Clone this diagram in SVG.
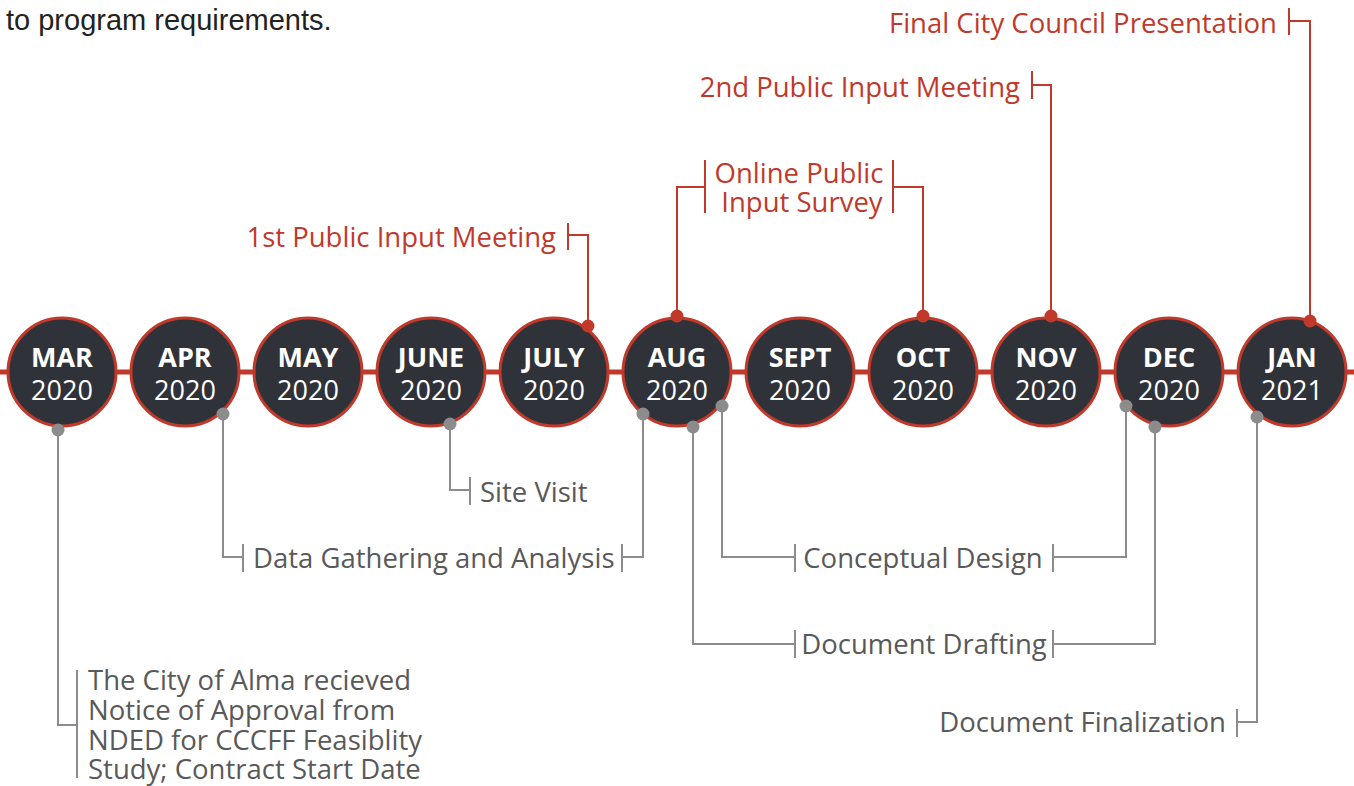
<svg xmlns="http://www.w3.org/2000/svg" width="1354" height="786" viewBox="0 0 1354 786">
  <style>
    .bg { fill: #ffffff; }
    .axis { stroke: #c0392b; stroke-width: 5; }
    .month circle { fill: #2f3239; stroke: #c0392b; stroke-width: 3; }
    .mlab { font-family: "Open Sans", "Noto Sans", sans-serif; font-size: 27px; fill: #ffffff; text-anchor: middle; }
    .mon { font-weight: 700; }
    .lr { fill: none; stroke: #c0392b; stroke-width: 2; }
    .lg { fill: none; stroke: #8c8c8c; stroke-width: 2; }
    .dr { fill: #c0392b; }
    .dg { fill: #8c8c8c; }
    .tr { font-family: "Open Sans", "Noto Sans", sans-serif; font-size: 27.5px; fill: #c0392b; }
    .tg { font-family: "Open Sans", "Noto Sans", sans-serif; font-size: 27.5px; fill: #595959; }
    .intro { font-family: "Liberation Sans", Arial, sans-serif; font-size: 29px; fill: #222222; }
  </style>
  <rect class="bg" x="0" y="0" width="1354" height="786"/>

  <text class="intro" x="6" y="30">to program requirements.</text>

  <!-- timeline axis -->
  <line class="axis" x1="0" y1="372" x2="1354" y2="372"/>

  <!-- connectors -->
  <g id="connectors">
    <!-- red milestones above -->
    <path class="lr" d="M588 326 V235 H568 M568 223 V250"/>
    <path class="lr" d="M677 316 V187 H705 M705 160 V213"/>
    <path class="lr" d="M923 316 V187 H893 M893 160 V213"/>
    <path class="lr" d="M1051 316 V85 H1032 M1032 71 V99"/>
    <path class="lr" d="M1310 321 V21 H1289 M1289 8 V35"/>
    <!-- grey phases below -->
    <path class="lg" d="M58 430 V725 H77 M77 670 V778"/>
    <path class="lg" d="M223 414 V557 H243 M243 544 V572"/>
    <path class="lg" d="M643 414 V557 H622 M622 544 V572"/>
    <path class="lg" d="M450 424 V490 H470 M470 477 V505"/>
    <path class="lg" d="M722 406 V557 H795 M795 544 V572"/>
    <path class="lg" d="M1126 406 V557 H1053 M1053 544 V572"/>
    <path class="lg" d="M693 427 V644 H795 M795 630 V658"/>
    <path class="lg" d="M1155 427 V644 H1053 M1053 630 V658"/>
    <path class="lg" d="M1257 417 V722 H1237 M1237 709 V737"/>
  </g>

  <!-- month nodes -->
  <g id="mar" class="month"><circle cx="62" cy="372" r="54"/><text class="mlab" x="62" y="367"><tspan class="mon">MAR</tspan><tspan x="62" dy="33">2020</tspan></text></g>
  <g id="apr" class="month"><circle cx="185" cy="372" r="54"/><text class="mlab" x="185" y="367"><tspan class="mon">APR</tspan><tspan x="185" dy="33">2020</tspan></text></g>
  <g id="may" class="month"><circle cx="308" cy="372" r="54"/><text class="mlab" x="308" y="367"><tspan class="mon">MAY</tspan><tspan x="308" dy="33">2020</tspan></text></g>
  <g id="june" class="month"><circle cx="431" cy="372" r="54"/><text class="mlab" x="431" y="367"><tspan class="mon">JUNE</tspan><tspan x="431" dy="33">2020</tspan></text></g>
  <g id="july" class="month"><circle cx="554" cy="372" r="54"/><text class="mlab" x="554" y="367"><tspan class="mon">JULY</tspan><tspan x="554" dy="33">2020</tspan></text></g>
  <g id="aug" class="month"><circle cx="677" cy="372" r="54"/><text class="mlab" x="677" y="367"><tspan class="mon">AUG</tspan><tspan x="677" dy="33">2020</tspan></text></g>
  <g id="sept" class="month"><circle cx="800" cy="372" r="54"/><text class="mlab" x="800" y="367"><tspan class="mon">SEPT</tspan><tspan x="800" dy="33">2020</tspan></text></g>
  <g id="oct" class="month"><circle cx="923" cy="372" r="54"/><text class="mlab" x="923" y="367"><tspan class="mon">OCT</tspan><tspan x="923" dy="33">2020</tspan></text></g>
  <g id="nov" class="month"><circle cx="1046" cy="372" r="54"/><text class="mlab" x="1046" y="367"><tspan class="mon">NOV</tspan><tspan x="1046" dy="33">2020</tspan></text></g>
  <g id="dec" class="month"><circle cx="1169" cy="372" r="54"/><text class="mlab" x="1169" y="367"><tspan class="mon">DEC</tspan><tspan x="1169" dy="33">2020</tspan></text></g>
  <g id="jan" class="month"><circle cx="1292" cy="372" r="54"/><text class="mlab" x="1292" y="367"><tspan class="mon">JAN</tspan><tspan x="1292" dy="33">2021</tspan></text></g>

  <!-- anchor dots on the month rims -->
  <g id="dots">
    <circle class="dr" cx="588" cy="326" r="6.5"/>
    <circle class="dr" cx="677" cy="316" r="6.5"/>
    <circle class="dr" cx="923" cy="316" r="6.5"/>
    <circle class="dr" cx="1051" cy="316" r="6.5"/>
    <circle class="dr" cx="1310" cy="321" r="6.5"/>
    <circle class="dg" cx="58" cy="430" r="6.5"/>
    <circle class="dg" cx="223" cy="414" r="6.5"/>
    <circle class="dg" cx="450" cy="424" r="6.5"/>
    <circle class="dg" cx="643" cy="414" r="6.5"/>
    <circle class="dg" cx="693" cy="427" r="6.5"/>
    <circle class="dg" cx="722" cy="406" r="6.5"/>
    <circle class="dg" cx="1126" cy="406" r="6.5"/>
    <circle class="dg" cx="1155" cy="427" r="6.5"/>
    <circle class="dg" cx="1257" cy="417" r="6.5"/>
  </g>

  <!-- milestone labels -->
  <g id="public-meeting-1"><text class="tr" x="556" y="247" text-anchor="end">1st Public Input Meeting</text></g>
  <g id="online-survey">
    <text class="tr" text-anchor="middle"><tspan x="799" y="183">Online Public</tspan><tspan x="802" y="212">Input Survey</tspan></text>
  </g>
  <g id="public-meeting-2"><text class="tr" x="1020" y="97" text-anchor="end">2nd Public Input Meeting</text></g>
  <g id="council"><text class="tr" x="1277" y="33" text-anchor="end">Final City Council Presentation</text></g>

  <!-- phase labels -->
  <g id="approval">
    <text class="tg"><tspan x="88" y="690">The City of Alma recieved</tspan><tspan x="88" y="720">Notice of Approval from</tspan><tspan x="88" y="750">NDED for CCCFF Feasiblity</tspan><tspan x="88" y="779">Study; Contract Start Date</tspan></text>
  </g>
  <g id="site-visit"><text class="tg" x="480" y="502">Site Visit</text></g>
  <g id="data-gathering"><text class="tg" x="253" y="568">Data Gathering and Analysis</text></g>
  <g id="conceptual-design"><text class="tg" x="923" y="568" text-anchor="middle">Conceptual Design</text></g>
  <g id="document-drafting"><text class="tg" x="924" y="654" text-anchor="middle">Document Drafting</text></g>
  <g id="document-finalization"><text class="tg" x="1226" y="732" text-anchor="end">Document Finalization</text></g>
</svg>
